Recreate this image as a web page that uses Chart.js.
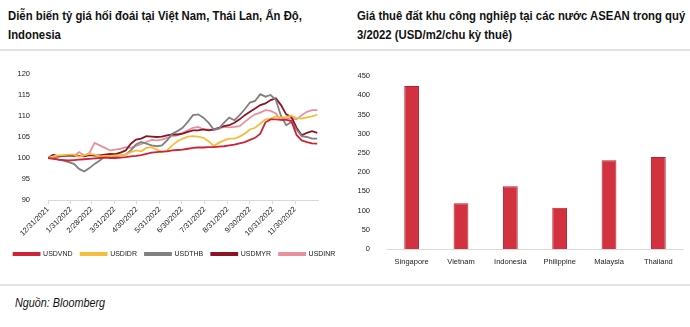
<!DOCTYPE html>
<html>
<head>
<meta charset="utf-8">
<script src="https://cdn.jsdelivr.net/npm/chart.js@4/dist/chart.umd.min.js"></script>
<style>
  body { margin: 0; background: #fff; width: 690px; height: 327px; position: relative; overflow: hidden;
         font-family: "Liberation Sans", Arial, sans-serif; color: #111; }
  .title { position: absolute; top: 7px; font-weight: bold; font-size: 12.2px; line-height: 18.6px;
           white-space: nowrap; transform: scaleX(0.93); transform-origin: left top; }
  .rule { position: absolute; left: 0; width: 690px; height: 2px; background: #e3e3e3; }
  .src { position: absolute; left: 15px; top: 296px; font-style: italic; font-size: 12px;
         white-space: nowrap; transform: scaleX(0.9); transform-origin: left top; }
  canvas { position: absolute; }
</style>
</head>
<body>
<div class="title" style="left:8px;">Diễn biến tỷ giá hối đoái tại Việt Nam, Thái Lan, Ấn Độ,<br>Indonesia</div>
<div class="title" style="left:357px;">Giá thuê đất khu công nghiệp tại các nước ASEAN trong quý<br>3/2022 (USD/m2/chu kỳ thuê)</div>
<div class="rule" style="top:49px;"></div>
<div class="rule" style="top:284px;"></div>
<div class="src">Nguồn: Bloomberg</div>
<canvas id="fxChart" width="345" height="220" style="left:0; top:55px;"></canvas>
<canvas id="rentChart" width="345" height="220" style="left:345px; top:55px;"></canvas>
<script>
// tỷ giá chuẩn hóa (31/12/2021 = 100), số liệu theo tuần
const days = [0, 7, 14, 21, 28, 35, 42, 49, 56, 63, 70, 77, 84, 91, 98, 105, 112, 119, 126, 133,
  140, 147, 154, 161, 168, 175, 182, 189, 196, 203, 210, 217, 224, 231, 238, 245, 252, 259, 266, 273,
  280, 287, 294, 301, 308, 315, 322, 329, 336, 343, 350, 357, 364];

const usdVnd = [100, 99.8, 99.6, 99.5, 99.4, 99.5, 99.6, 99.7, 99.8, 99.9, 100.0, 100.1, 100.0, 100.0,
  100.1, 100.2, 100.4, 100.5, 100.7, 101.0, 101.3, 101.4, 101.5, 101.6, 101.8, 101.9, 102.0, 102.2,
  102.4, 102.5, 102.5, 102.6, 102.6, 102.7, 102.8, 103.0, 103.2, 103.5, 103.8, 104.3, 104.8, 105.8,
  108.5, 109.2, 109.2, 109.1, 109.1, 108.8, 105.5, 104.2, 103.8, 103.5, 103.4];

const usdIdr = [100, 100.4, 100.6, 100.7, 100.8, 100.8, 100.3, 100.6, 101.0, 100.8, 100.4, 100.5, 100.5,
  100.6, 100.6, 100.8, 101.4, 101.8, 101.6, 102.4, 102.6, 102.0, 101.4, 101.8, 103.0, 104.0, 104.6,
  105.1, 105.2, 105.1, 104.8, 104.0, 102.9, 103.6, 104.2, 104.6, 104.6, 105.1, 105.8, 106.8, 107.2,
  108.2, 109.2, 109.4, 109.9, 109.6, 109.8, 110.1, 109.5, 109.4, 109.7, 109.9, 110.3];

const usdThb = [100, 100.3, 99.6, 99.4, 99.0, 98.6, 97.4, 96.8, 97.6, 98.6, 99.4, 100.4, 100.2, 100.4,
  100.6, 100.8, 101.8, 103.2, 103.8, 103.4, 103.0, 102.8, 103.0, 104.2, 105.8, 106.4, 107.2, 108.6,
  110.2, 110.4, 109.6, 108.4, 106.8, 107.0, 108.4, 109.6, 109.0, 110.2, 111.6, 113.2, 113.6, 115.2,
  114.6, 115.0, 113.8, 110.0, 107.8, 108.6, 106.8, 105.2, 105.0, 104.6, 104.6];

const usdMyr = [100, 100.8, 100.4, 100.5, 100.6, 100.6, 100.5, 100.4, 100.7, 100.6, 100.6, 100.8, 101.0,
  100.9, 101.3, 101.8, 103.4, 104.4, 104.6, 105.2, 105.1, 105.0, 105.1, 105.4, 105.6, 105.6, 105.8,
  106.2, 106.6, 106.6, 106.8, 106.6, 106.8, 107.2, 107.6, 107.8, 108.4, 109.2, 110.2, 111.0, 111.8,
  112.6, 113.0, 113.8, 114.2, 112.6, 110.4, 109.8, 107.2, 105.4, 106.0, 106.4, 106.0];

const usdInr = [100, 100.0, 100.2, 100.6, 100.6, 100.4, 101.4, 100.6, 101.2, 103.6, 103.0, 102.4, 101.8,
  102.0, 102.2, 102.6, 102.4, 102.9, 103.3, 103.8, 104.3, 104.2, 104.4, 104.8, 105.2, 105.4, 106.0,
  106.6, 107.2, 107.4, 106.8, 106.8, 106.6, 107.0, 107.4, 107.3, 107.4, 107.6, 108.6, 109.6, 110.4,
  110.8, 111.4, 111.2, 110.6, 109.0, 109.4, 109.4, 109.2, 110.2, 111.0, 111.4, 111.4];

// mốc cuối tháng trên trục ngày
const tickDays = [0, 31, 59, 90, 120, 151, 181, 212, 243, 273, 304, 334];
const tickLabels = ['12/31/2021', '1/31/2022', '2/28/2022', '3/31/2022', '4/30/2022', '5/31/2022',
  '6/30/2022', '7/31/2022', '8/31/2022', '9/30/2022', '10/31/2022', '11/30/2022'];

// giá thuê đất KCN quý 3/2022
const countries = ['Singapore', 'Vietnam', 'Indonesia', 'Philippine', 'Malaysia', 'Thailand'];
const rentPrices = [424, 119, 163, 107, 231, 239];

Chart.defaults.font.family = '"Liberation Sans", Arial, sans-serif';
Chart.defaults.color = '#222';
Chart.defaults.animation = false;

// dịch chú giải theo chiều ngang
const legendShift = {
  id: 'legendShift',
  afterLayout(chart, args, opts) {
    if (!chart.legend) return;
    chart.legend.left += opts.dx;
    chart.legend.right += opts.dx;
  }
};

function series(label, values, color) {
  return {
    label: label,
    data: values.map((v, i) => ({ x: days[i], y: v })),
    borderColor: color,
    backgroundColor: color,
    borderWidth: 1.8,
    pointRadius: 0,
    tension: 0
  };
}

new Chart(document.getElementById('fxChart'), {
  type: 'line',
  data: {
    datasets: [
      series('USDVND', usdVnd, '#cf2337'),
      series('USDIDR', usdIdr, '#f5bd3c'),
      series('USDTHB', usdThb, '#808080'),
      series('USDMYR', usdMyr, '#8c1425'),
      series('USDINR', usdInr, '#e8919c')
    ]
  },
  plugins: [legendShift],
  options: {
    responsive: false,
    layout: { padding: { top: 19, right: 0, left: 0, bottom: 7.5 } },
    plugins: {
      tooltip: { enabled: false },
      legendShift: { dx: 2 },
      legend: {
        position: 'bottom',
        labels: { boxWidth: 26, boxHeight: 2, padding: 8, font: { size: 7 } }
      }
    },
    scales: {
      x: {
        type: 'linear',
        min: 0,
        max: 365,
        afterBuildTicks: axis => { axis.ticks = tickDays.map(v => ({ value: v })); },
        afterFit: scale => { scale.height = 42.5; },
        ticks: {
          minRotation: 45,
          maxRotation: 45,
          padding: 1,
          font: { size: 7.5 },
          callback: v => tickLabels[tickDays.indexOf(v)]
        },
        grid: { drawOnChartArea: false, color: '#d9d9d9', tickLength: 4 },
        border: { color: '#d9d9d9' }
      },
      y: {
        min: 90,
        max: 120,
        afterFit: scale => { scale.width = 48; },
        ticks: { stepSize: 5, padding: 10, font: { size: 7.5 } },
        grid: { display: false },
        border: { display: false }
      },
      // khoảng trống bên phải vùng vẽ
      yRight: {
        position: 'right',
        ticks: { display: false },
        grid: { display: false },
        border: { display: false },
        afterFit: scale => { scale.width = 27; }
      }
    }
  }
});

new Chart(document.getElementById('rentChart'), {
  type: 'bar',
  data: {
    labels: countries,
    datasets: [{
      data: rentPrices,
      backgroundColor: '#d2323f',
      borderColor: '#b3202e',
      borderWidth: 1,
      barPercentage: 0.6,
      categoryPercentage: 0.5
    }]
  },
  options: {
    responsive: false,
    layout: { padding: { top: 21, right: 7, left: 0, bottom: 6 } },
    plugins: { legend: { display: false }, tooltip: { enabled: false } },
    scales: {
      x: {
        afterFit: scale => { scale.height = 20; },
        ticks: { padding: 8, font: { size: 7.5 } },
        grid: { display: false, drawTicks: false, tickLength: 0 },
        border: { color: '#d9d9d9' }
      },
      y: {
        min: 0,
        max: 450,
        afterFit: scale => { scale.width = 42; },
        ticks: { stepSize: 50, padding: 9, font: { size: 7.5 } },
        grid: { display: false },
        border: { display: false }
      }
    }
  }
});
</script>
</body>
</html>
